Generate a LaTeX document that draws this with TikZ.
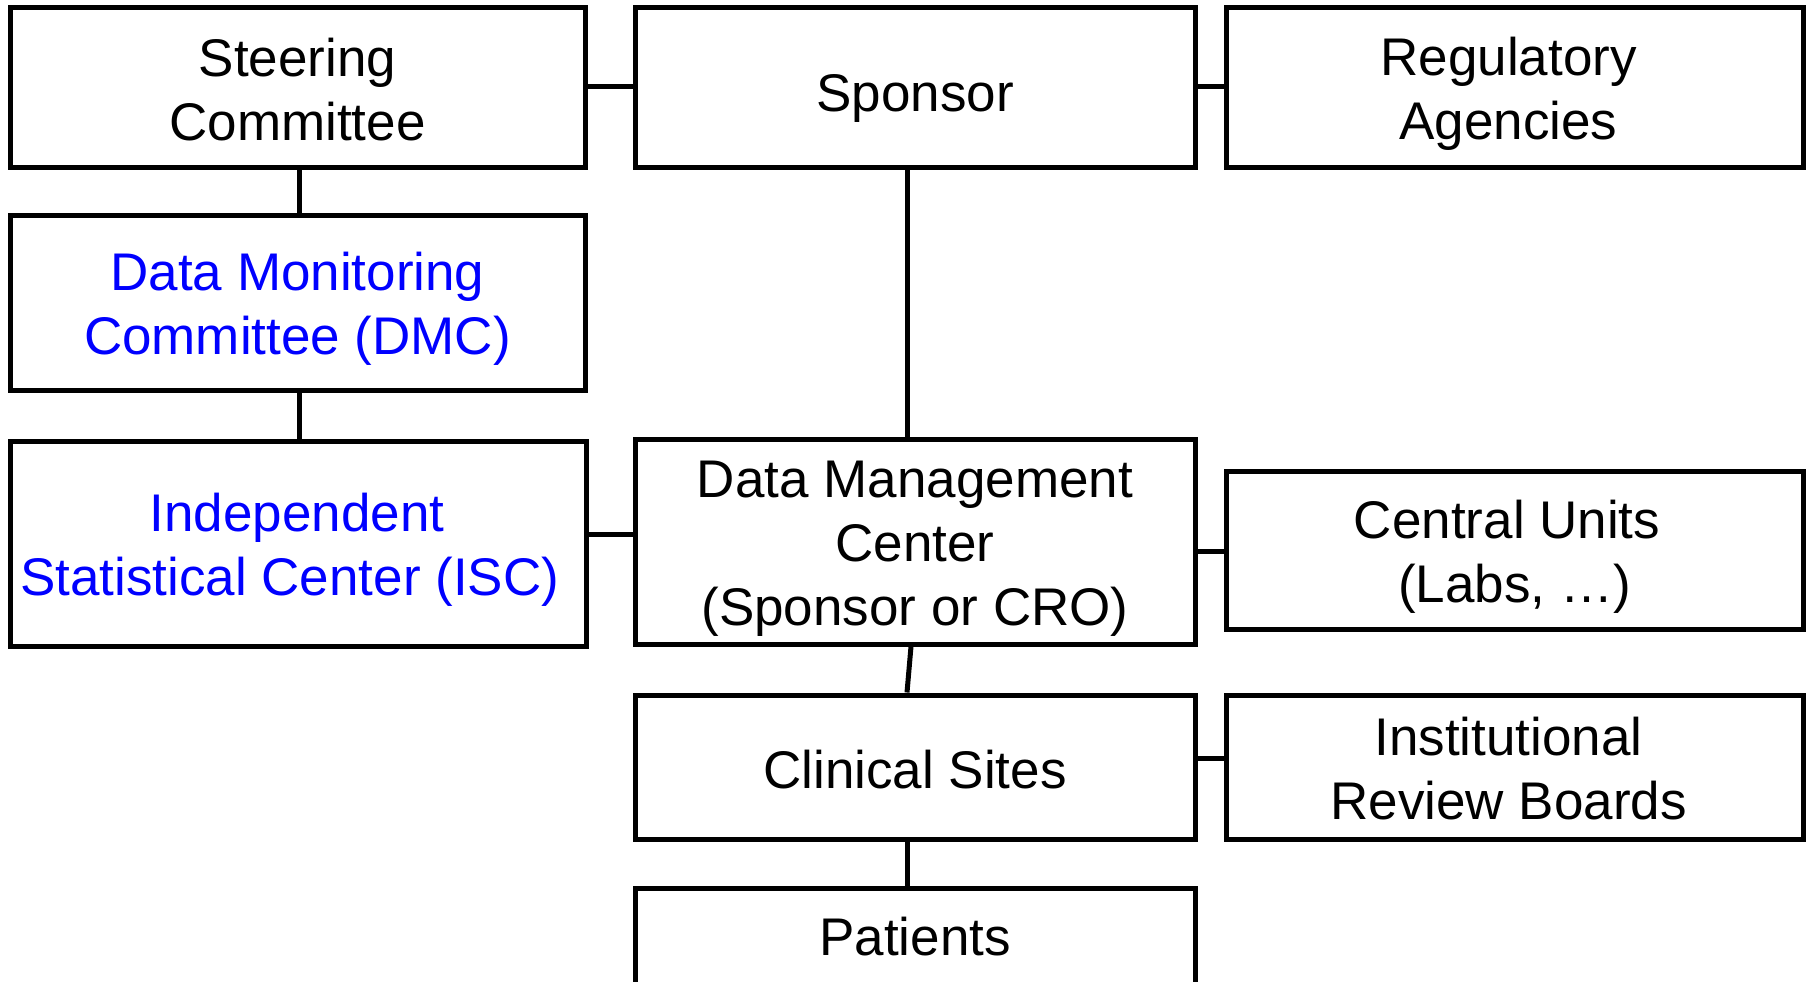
\documentclass[tikz,border=0pt]{standalone}
\usepackage{fontspec}
\setmainfont{Liberation Sans}
\definecolor{dblue}{RGB}{0,0,255}
\begin{document}
\begin{tikzpicture}[x=0.5pt,y=-0.5pt,
  box/.style={draw=black,line width=2.5pt,rectangle,inner sep=0pt},
  lbl/.style={inner sep=0pt,align=center,font=\fontsize{26.5}{32}\selectfont},
  conn/.style={draw=black,line width=2.5pt}]
\useasboundingbox (0,0) rectangle (1810,981);
\node[box,minimum width=287.5pt,minimum height=80pt] (steer) at (297.5,87) {};
\node[box,minimum width=280pt,minimum height=80pt] (sponsor) at (915,87) {};
\node[box,minimum width=288.5pt,minimum height=80pt] (reg) at (1514.5,87) {};
\node[box,minimum width=287.5pt,minimum height=87.5pt] (dmc) at (297.5,302.5) {};
\node[box,minimum width=288pt,minimum height=102.5pt] (isc) at (298,543.5) {};
\node[box,minimum width=280pt,minimum height=102.5pt] (dmcen) at (915,541.5) {};
\node[box,minimum width=288.5pt,minimum height=79pt] (central) at (1514.5,550) {};
\node[box,minimum width=280pt,minimum height=72pt] (clin) at (915,767) {};
\node[box,minimum width=288.5pt,minimum height=72pt] (irb) at (1514.5,767) {};
\node[box,minimum width=280pt,minimum height=50pt] (pat) at (915,938) {};
% labels
\node[lbl] (steerT) at ([yshift=-1.2pt]steer.center) {Steering\\Committee};
\node[lbl] (sponsorT) at ([yshift=-5.5pt]sponsor.center) {Sponsor};
\node[lbl] (regT) at ([xshift=-3pt,yshift=-3.2pt]reg.center) {Regulatory\\Agencies};
\node[lbl,text=dblue] (dmcT) at ([yshift=-3.2pt]dmc.center) {Data Monitoring\\Committee (DMC)};
\node[lbl,text=dblue] (iscT) at ([xshift=-0.5pt,yshift=-2.9pt]isc.center) {Independent\\Statistical Center (ISC)\kern0.278em};
\node[lbl] (dmcenT) at ([yshift=-3.5pt]dmcen.center) {Data Management\\Center\\(Sponsor or CRO)};
\node[lbl] (centralT) at ([yshift=-3.5pt]central.center) {Central Units\kern0.278em\\(Labs, …)};
\node[lbl] (clinT) at ([yshift=-1.2pt]clin.center) {Clinical Sites};
\node[lbl] (irbT) at ([xshift=-3pt,yshift=-0.6pt]irb.center) {Institutional\\Review Boards};
\node[lbl] (patT) at ([yshift=0.6pt]pat.center) {Patients};
% connectors
\draw[conn] (steer.east |- 0,86) -- (sponsor.west |- 0,86);
\draw[conn] (sponsor.east |- 0,86) -- (reg.west |- 0,86);
\draw[conn] (steer.south -| 299,0) -- (dmc.north -| 299,0);
\draw[conn] (dmc.south -| 299,0) -- (isc.north -| 299,0);
\draw[conn] (sponsor.south -| 907,0) -- (dmcen.north -| 907,0);
\draw[conn] (isc.east |- 0,534) -- (dmcen.west |- 0,534);
\draw[conn] (dmcen.east |- 0,551) -- (central.west |- 0,551);
\draw[conn] (dmcen.south -| 911,0) -- (clin.north -| 907,0);
\draw[conn] (clin.east |- 0,758) -- (irb.west |- 0,758);
\draw[conn] (clin.south -| 907,0) -- (pat.north -| 907,0);
\end{tikzpicture}
\end{document}
